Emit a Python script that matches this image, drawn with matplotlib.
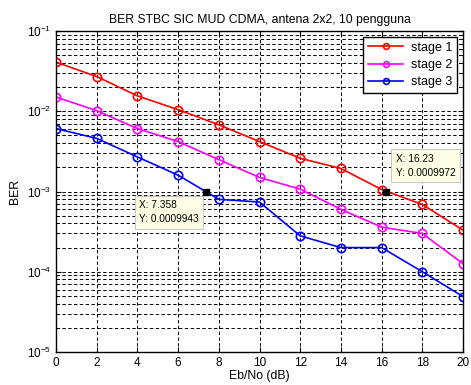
import numpy as np
import matplotlib
matplotlib.use('Agg')
import matplotlib.pyplot as plt
from matplotlib.ticker import LogLocator, NullFormatter

plt.rcParams['font.family'] = ['Liberation Sans', 'DejaVu Sans']
plt.rcParams['mathtext.fontset'] = 'custom'
plt.rcParams['mathtext.rm'] = 'Liberation Sans'
plt.rcParams['mathtext.it'] = 'Liberation Sans'

# Eb/No in dB
ebno = [0, 2, 4, 6, 8, 10, 12, 14, 16, 18, 20]

# BER per SIC stage
ber_stage1 = [0.041, 0.0272, 0.0156, 0.0105, 0.0068, 0.0042, 0.0026, 0.00194, 0.00106, 0.00069, 0.00033]
ber_stage2 = [0.0151, 0.0102, 0.0061, 0.0042, 0.0025, 0.0015, 0.00107, 0.0006, 0.00036, 0.0003, 0.000126]
ber_stage3 = [0.0061, 0.0046, 0.0027, 0.0016, 0.0008, 0.00074, 0.00028, 0.0002, 0.0002, 0.0001, 0.000049]

labels = ['stage 1', 'stage 2', 'stage 3']
colors = ['#ff0000', '#ff00ff', '#0000ff']

# data tips
tip_x = [7.358, 16.23]
tip_y = [0.0009943, 0.0009972]

fig = plt.figure(figsize=(4.71, 3.85), dpi=100)
ax = fig.add_axes([0.119, 0.086, 0.864, 0.833])

for ys, lab, c in zip([ber_stage1, ber_stage2, ber_stage3], labels, colors):
    ax.semilogy(ebno, ys, '-o', color=c, label=lab, lw=1.2,
                markersize=6, markerfacecolor='none', markeredgewidth=1.2)

ax.set_xlim(0, 20)
ax.set_ylim(1e-5, 1e-1)
ax.set_xticks(range(0, 21, 2))
ax.yaxis.set_major_locator(LogLocator(base=10))
ax.yaxis.set_minor_locator(LogLocator(base=10, subs=np.arange(2, 10)))
ax.yaxis.set_minor_formatter(NullFormatter())
grid_ls = (0, (3.5, 2.5))
ax.grid(True, which='major', ls=grid_ls, color='k', lw=0.7)
ax.grid(True, which='minor', axis='y', ls=grid_ls, color='k', lw=0.7)
ax.tick_params(direction='in', which='both', labelsize=8.5, top=True, right=True)
for s in ax.spines.values():
    s.set_linewidth(1.0)

ax.set_title('BER STBC SIC MUD CDMA, antena 2x2, 10 pengguna', fontsize=8.8)
ax.set_xlabel('Eb/No (dB)', fontsize=8.8, labelpad=1)
ax.set_ylabel('BER', fontsize=8.8, labelpad=4)

leg = ax.legend(loc='upper right', fontsize=9, fancybox=False, framealpha=1,
                edgecolor='k', borderaxespad=0.45, handlelength=2.8,
                handletextpad=0.6, markerscale=0.7, labelspacing=0.42,
                borderpad=0.4)
leg.get_frame().set_linewidth(1.0)

# data tip markers and boxes
ax.plot(tip_x, tip_y, 's', color='k', markersize=5, zorder=5)
ax.annotate('X: %.3f\nY: %s' % (tip_x[0], '0.0009943'), (tip_x[0], tip_y[0]),
            xytext=(-48, -6), textcoords='offset points', va='top', ha='left',
            fontsize=7.3, linespacing=1.5,
            bbox=dict(boxstyle='square,pad=0.45', fc='#ffffe6', ec='#c8c8c8', lw=0.8))
ax.annotate('X: %.2f\nY: %s' % (tip_x[1], '0.0009972'), (tip_x[1], tip_y[1]),
            xytext=(7, 10), textcoords='offset points', va='bottom', ha='left',
            fontsize=7.3, linespacing=1.5,
            bbox=dict(boxstyle='square,pad=0.45', fc='#ffffe6', ec='#c8c8c8', lw=0.8))

fig.savefig('out.png', dpi=100)
